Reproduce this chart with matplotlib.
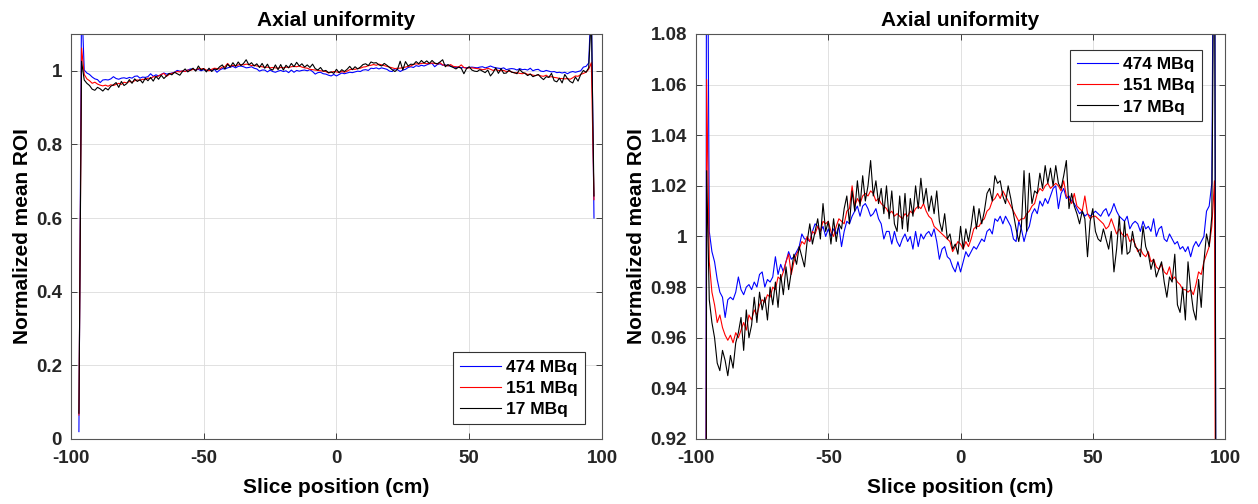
import numpy as np
import matplotlib
matplotlib.use("Agg")
import matplotlib.pyplot as plt
from matplotlib.ticker import FormatStrFormatter

# slice positions (cm), one value per slice
slice_first = -97
slice_last = 97

labels = ["474 MBq", "151 MBq", "17 MBq"]

# normalized mean ROI, 474 MBq
roi_474 = [
    0.02, 1.20,
    1.002, 0.994, 0.990, 0.983, 0.978, 0.976, 0.968, 0.975, 0.976, 0.975,
    0.978, 0.984, 0.979, 0.977, 0.980, 0.981, 0.979, 0.982, 0.980, 0.985,
    0.986, 0.980, 0.983, 0.982, 0.984, 0.992, 0.985, 0.989, 0.986, 0.990,
    0.994, 0.991, 0.992, 0.994, 0.996, 1.001, 0.999, 0.999, 0.998, 1.002,
    1.005, 1.004, 1.002, 1.004, 1.000, 1.003,
    1.000, 1.003, 1.001, 1.004, 0.996, 1.002, 1.006, 1.005, 1.008, 1.010,
    1.012, 1.008, 1.012, 1.013, 1.011, 1.008, 1.009, 1.011, 1.007, 1.005,
    0.999, 1.002, 1.002, 0.997, 1.002, 0.998, 0.996, 0.999, 1.001, 0.998,
    1.000, 0.995, 1.002, 0.996, 1.001, 0.999, 1.001, 1.002, 1.000, 1.003,
    0.998, 0.991, 0.995, 0.996, 0.992, 0.991, 0.988, 0.986, 0.990, 0.986,
    0.990, 0.994, 0.992, 0.994, 0.996, 0.995, 0.997, 0.999, 0.998, 1.002,
    1.003, 1.001, 1.007, 1.006, 1.008, 1.005, 1.008, 1.006, 1.004, 0.999,
    0.998, 1.006, 1.003, 0.998, 1.002, 1.004, 1.009, 1.011, 1.009, 1.014,
    1.012, 1.015, 1.013, 1.016, 1.019, 1.020, 1.011, 1.017, 1.019, 1.015,
    1.016, 1.014, 1.013, 1.011, 1.009, 1.010, 1.008, 1.009, 1.008, 1.009,
    1.010, 1.009, 1.008, 1.010, 1.011, 1.008, 1.010, 1.013, 1.010, 1.008,
    1.007, 1.006, 1.008, 1.003, 1.005, 1.006, 1.005, 1.002, 1.006, 1.003,
    1.004, 1.002, 1.007, 1.000, 1.003, 1.004, 0.999, 0.998, 1.001, 0.999,
    0.997, 0.998, 0.995, 0.996, 0.994, 0.996, 0.992, 0.996, 0.998, 0.996,
    0.998, 1.000, 1.010, 1.012, 1.021,
    1.20, 0.60,
]

# normalized mean ROI, 151 MBq
roi_151 = [
    0.065, 1.062,
    0.990, 0.978, 0.973, 0.966, 0.969, 0.964, 0.961, 0.959, 0.961, 0.958,
    0.962, 0.960, 0.963, 0.966, 0.963, 0.969, 0.967, 0.971, 0.969, 0.973,
    0.975, 0.974, 0.977, 0.976, 0.980, 0.979, 0.984, 0.983, 0.986, 0.990,
    0.993, 0.985, 0.990, 0.993, 0.995, 0.998, 0.997, 1.000, 0.998, 1.002,
    1.001, 1.004, 1.002, 1.006, 1.005, 1.006,
    1.002, 1.000, 1.004, 1.007, 1.006, 1.005, 1.010, 1.011, 1.020, 1.012,
    1.015, 1.013, 1.016, 1.017, 1.016, 1.018, 1.017, 1.014, 1.015, 1.013,
    1.012, 1.011, 1.009, 1.010, 1.008, 1.009, 1.008, 1.007, 1.009, 1.008,
    1.010, 1.009, 1.011, 1.012, 1.011, 1.013, 1.010, 1.008, 1.007, 1.004,
    1.003, 1.002, 1.001, 1.000, 0.999, 0.998, 0.994, 0.996, 0.998, 0.997,
    0.995, 0.998, 0.996, 0.999, 1.003, 1.004, 1.004, 1.006, 1.007, 1.010,
    1.011, 1.014, 1.015, 1.017, 1.015, 1.018, 1.016, 1.014, 1.012, 1.010,
    1.008, 1.006, 1.007, 1.007, 1.009, 1.010, 1.012, 1.013, 1.017, 1.019,
    1.018, 1.020, 1.021, 1.019, 1.020, 1.021, 1.020, 1.018, 1.022, 1.016,
    1.015, 1.013, 1.017, 1.012, 1.011, 1.010, 1.016, 1.009, 1.007, 1.008,
    1.008, 1.007, 1.006, 1.005, 1.003, 1.004, 1.007, 1.004, 1.001, 1.003,
    1.001, 1.000, 1.001, 0.998, 0.999, 0.997, 0.994, 0.995, 0.993, 0.992,
    0.994, 0.990, 0.991, 0.988, 0.987, 0.989, 0.986, 0.985, 0.988, 0.983,
    0.984, 0.982, 0.981, 0.979, 0.979, 0.978, 0.979, 0.977, 0.981, 0.986,
    0.985, 0.990, 0.993, 0.996, 1.004,
    1.022, 0.65,
]

# normalized mean ROI, 17 MBq
roi_17 = [
    0.07, 1.026,
    0.975, 0.966, 0.960, 0.950, 0.947, 0.955, 0.951, 0.945, 0.953, 0.948,
    0.958, 0.962, 0.968, 0.955, 0.971, 0.960, 0.965, 0.976, 0.966, 0.978,
    0.971, 0.976, 0.967, 0.980, 0.973, 0.982, 0.972, 0.985, 0.977, 0.988,
    0.979, 0.986, 0.993, 0.989, 0.996, 0.992, 0.988, 0.998, 1.005, 0.997,
    1.002, 1.007, 0.999, 1.013, 1.002, 1.006,
    0.997, 1.007, 0.998, 1.005, 1.003, 1.011, 1.016, 1.005, 1.018, 1.010,
    1.022, 1.012, 1.024, 1.014, 1.020, 1.030, 1.016, 1.022, 1.013, 1.019,
    1.009, 1.020, 1.007, 1.018, 1.005, 1.002, 1.016, 1.003, 1.017, 1.002,
    1.015, 1.008, 1.020, 1.011, 1.023, 1.013, 1.019, 1.010, 1.016, 1.009,
    1.018, 1.006, 1.002, 1.009, 0.999, 1.001, 0.995, 0.997, 0.993, 1.004,
    0.995, 1.003, 0.998, 1.004, 1.012, 1.003, 1.011, 1.005, 1.010, 1.017,
    1.019, 1.014, 1.024, 1.021, 1.022, 1.016, 1.013, 1.020, 1.015, 1.009,
    1.003, 0.998, 1.004, 1.026, 1.002, 1.025, 1.013, 1.018, 1.017, 1.025,
    1.019, 1.028, 1.021, 1.027, 1.020, 1.028, 1.021, 1.019, 1.024, 1.030,
    1.011, 1.017, 1.012, 1.009, 1.005, 1.010, 1.007, 0.992, 1.006, 1.011,
    1.002, 0.999, 0.998, 1.003, 0.999, 0.995, 1.002, 0.986, 0.995, 1.008,
    0.993, 1.006, 0.993, 0.994, 1.002, 0.996, 0.995, 0.992, 1.004, 0.996,
    0.993, 0.987, 0.991, 0.984, 0.987, 0.990, 0.982, 0.976, 0.984, 0.982,
    0.993, 0.973, 0.970, 0.980, 0.967, 0.990, 0.979, 0.971, 0.967, 0.983,
    0.972, 0.990, 1.001, 0.996, 1.008,
    1.15, 0.66,
]

x_ticks = [-100, -50, 0, 50, 100]
y_ticks_full = [0, 0.2, 0.4, 0.6, 0.8, 1.0]
y_ticks_zoom = [0.92, 0.94, 0.96, 0.98, 1.0, 1.02, 1.04, 1.06, 1.08]


def style_axes(ax, yticks, ylim):
    ax.set_xlim(-100, 100)
    ax.set_ylim(*ylim)
    ax.set_xticks(x_ticks)
    ax.set_yticks(yticks)
    ax.yaxis.set_major_formatter(FormatStrFormatter("%g"))
    ax.grid(True, color="#dcdcdc", linewidth=0.6)
    ax.set_axisbelow(True)
    ax.tick_params(direction="in", length=4, width=0.6, top=True, right=True,
                   labelsize=13.5, colors="#262626")
    ax.tick_params(axis="x", pad=8)
    ax.tick_params(axis="y", pad=6.5)
    for s in ax.spines.values():
        s.set_color("#555555")
        s.set_linewidth(0.8)
    for lab in ax.get_xticklabels() + ax.get_yticklabels():
        lab.set_fontweight("bold")
    ax.set_title("Axial uniformity", fontsize=15, fontweight="bold", pad=6)
    ax.set_xlabel("Slice position (cm)", fontsize=15, fontweight="bold", labelpad=8)
    ax.set_ylabel("Normalized mean ROI", fontsize=15, fontweight="bold", labelpad=3)


def main():
    plt.rcParams["font.family"] = ["Liberation Sans", "DejaVu Sans"]
    plt.rcParams["axes.unicode_minus"] = False

    x = np.arange(slice_first, slice_last + 1)
    series = [roi_474, roi_151, roi_17]
    colors = ["#0000ff", "#ff0000", "#000000"]

    fig = plt.figure(figsize=(12.58, 5.04), dpi=100)
    ax1 = fig.add_axes([0.0564, 0.129, 0.4221, 0.8036])
    ax2 = fig.add_axes([0.5533, 0.129, 0.4205, 0.8036])

    for ax in (ax1, ax2):
        for vals, c, lab in zip(series, colors, labels):
            ax.plot(x, vals, color=c, linewidth=0.8, label=lab)

    style_axes(ax1, y_ticks_full, (0, 1.1))
    style_axes(ax2, y_ticks_zoom, (0.92, 1.08))

    leg_kw = dict(fancybox=False, framealpha=1, edgecolor="#333333",
                  handlelength=2.35, handletextpad=0.3, borderpad=0.4,
                  labelspacing=0.35, borderaxespad=0,
                  prop={"size": 12.5, "weight": "bold"})
    l1 = ax1.legend(loc="lower right", bbox_to_anchor=(0.968, 0.037), **leg_kw)
    l2 = ax2.legend(loc="upper right", bbox_to_anchor=(0.9565, 0.9605), **leg_kw)
    for leg in (l1, l2):
        leg.get_frame().set_linewidth(0.8)

    fig.savefig("out.png", dpi=100)


if __name__ == "__main__":
    main()
